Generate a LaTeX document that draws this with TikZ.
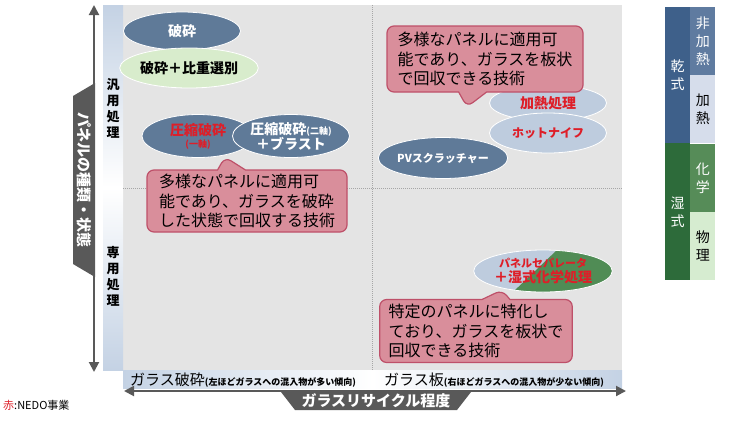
\documentclass[tikz,border=0pt]{standalone}
\usepackage{fontspec}
\setmainfont{Noto Sans CJK JP}
\usepackage{xcolor}
\usetikzlibrary{shapes,shapes.callouts,positioning,arrows.meta}

\definecolor{panelgrey}{RGB}{228,228,228}
\definecolor{stripblue}{RGB}{196,210,228}
\definecolor{axisgrey}{RGB}{89,89,89}
\definecolor{slate}{RGB}{95,122,152}
\definecolor{paleblue}{RGB}{190,204,222}
\definecolor{palegreen}{RGB}{216,236,204}
\definecolor{wetmix}{RGB}{80,140,85}
\definecolor{pinkfill}{RGB}{217,142,155}
\definecolor{pinkline}{RGB}{190,80,105}
\definecolor{nedored}{RGB}{222,30,40}
\definecolor{drydark}{RGB}{62,96,138}
\definecolor{nonheat}{RGB}{95,123,160}
\definecolor{heatc}{RGB}{214,221,235}
\definecolor{wetdark}{RGB}{45,107,58}
\definecolor{chemc}{RGB}{86,140,88}
\definecolor{physc}{RGB}{214,236,208}

\begin{document}
\begin{tikzpicture}[x=1pt, y=-1pt,
    ell/.style={ellipse, draw=white, line width=0.8pt, inner sep=0pt, align=center, font=\bfseries\fontsize{14}{15}\selectfont},
    dark ell/.style={ell, fill=slate, text=white},
    light ell/.style={ell, fill=paleblue, text=nedored},
    memo box/.style={rectangle callout, rounded corners=7pt, fill=pinkfill, draw=pinkline, line width=1.2pt, align=left, inner xsep=9pt, callout pointer width=28pt, font=\fontsize{16}{19.5}\selectfont},
    cell/.style={minimum width=25pt, minimum height=68pt, inner sep=0pt, align=center, font=\fontsize{14}{18}\selectfont},
    side label/.style={align=center, inner sep=0pt, font=\bfseries\fontsize{13}{16}\selectfont},
    axis line/.style={draw=axisgrey, line width=2pt, {Triangle[length=10pt,width=10pt]}-{Triangle[length=10pt,width=10pt]}},
    grid line/.style={draw=gray!70, densely dotted, line width=1pt}]

    \useasboundingbox (0,0) rectangle (730,421);

    % quadrant panel
    \fill[panelgrey] (123,5) rectangle (622,370);
    \shade[top color=stripblue, bottom color=stripblue, middle color=white] (103,5) rectangle (123,370);
    \shade[left color=stripblue, right color=stripblue, middle color=white] (123,370) rectangle (622,388);
    \draw[grid line] (372,5) -- (372,370);
    \draw[grid line] (123,188) -- (622,188);

    % axes
    \coordinate (ytop) at (94,5);
    \coordinate (ybot) at (94,372);
    \coordinate (xleft) at (124,391);
    \coordinate (xright) at (626,391);
    \draw[axis line] (ytop) -- (ybot);
    \draw[axis line] (xleft) -- (xright);
    \fill[axisgrey] (95,83) -- (73,96) -- (73,264) -- (95,277) -- cycle;
    \node[text=white, rotate=-90, font=\bfseries\fontsize{15}{16}\selectfont] (ylabel) at (84,180) {パネルの種類・状態};
    \fill[axisgrey] (281,392) -- (471,392) -- (457,410) -- (295,410) -- cycle;
    \node[text=white, font=\bfseries\fontsize{15}{16}\selectfont] (xlabel) at (376,401) {ガラスリサイクル程度};

    \node[side label] (general) at (113,108) {汎\\用\\処\\理};
    \node[side label] (special) at (113,276) {専\\用\\処\\理};
    \node[anchor=base west, inner sep=0pt, font=\fontsize{15}{16}\selectfont] (xlow) at (130,385) {ガラス破砕{\bfseries\fontsize{9}{10}\selectfont(左ほどガラスへの混入物が多い傾向)}};
    \node[anchor=base west, inner sep=0pt, font=\fontsize{15}{16}\selectfont] (xhigh) at (384,385) {ガラス板{\bfseries\fontsize{9}{10}\selectfont(右ほどガラスへの混入物が少ない傾向)}};

    % techniques
    \node[dark ell, minimum width=117pt, minimum height=38pt] (crush) at (182,31) {破砕};
    \node[ell, fill=palegreen, minimum width=117pt, minimum height=40pt] (gravity) at (189,68) {破砕＋比重選別};
    \node[dark ell, text=nedored, minimum width=112pt, minimum height=43pt] (press1) at (198,136) {圧縮破砕\\[-3pt]{\fontsize{9}{10}\selectfont(一軸)}};
    \node[dark ell, minimum width=117pt, minimum height=43pt] (press2) at (291,136) {圧縮破砕{\fontsize{9}{10}\selectfont(二軸)}\\＋ブラスト};
    \node[light ell, minimum width=117pt, minimum height=36pt] (heating) at (548,103) {加熱処理};
    \node[light ell, minimum width=117pt, minimum height=40pt, font=\bfseries\fontsize{12}{13}\selectfont] (knife) at (548,133) {ホットナイフ};
    \node[dark ell, minimum width=117pt, minimum height=41pt, font=\bfseries\fontsize{11}{12}\selectfont] (scratch) at (443,158) {PVスクラッチャー};
    \node[light ell, minimum width=115pt, minimum height=42pt,
      path picture={\fill[wetmix] ([xshift=14pt]path picture bounding box.north) -- (path picture bounding box.north east) -- (path picture bounding box.south east) -- ([xshift=-30pt]path picture bounding box.south) -- cycle;}]
      (separator) at (543,271) {{\fontsize{11}{12}\selectfont パネルセパレータ}\\＋湿式化学処理};

    % callouts
    \coordinate (tipA) at (467,107);
    \coordinate (tipB) at (225,157);
    \coordinate (tipC) at (502,290);
    \node[memo box, callout absolute pointer={(tipA)}, minimum width=196pt, minimum height=66pt] (memoA) at (485,59) {多様なパネルに適用可\\能であり、ガラスを板状\\で回収できる技術};
    \node[memo box, callout absolute pointer={(tipB)}, minimum width=200pt, minimum height=62pt] (memoB) at (247,201) {多様なパネルに適用可\\能であり、ガラスを破砕\\した状態で回収する技術};
    \node[memo box, callout absolute pointer={(tipC)}, minimum width=187pt, minimum height=63pt] (memoC) at (476,331) {特定のパネルに特化し\\ており、ガラスを板状で\\回収できる技術};

    % legend
    \node[cell, fill=drydark, text=white, minimum height=136pt] (dry) at (677.5,75) {乾\\式};
    \node[cell, fill=nonheat, text=white, anchor=north west] (nonheated) at (dry.north east) {非\\加\\熱};
    \node[cell, fill=heatc, below=0pt of nonheated] (heated) {加\\熱};
    \node[cell, fill=wetdark, text=white, minimum height=137pt, below=0pt of dry] (wet) {湿\\式};
    \node[cell, fill=chemc, text=white, below=0pt of heated] (chemical) {化\\学};
    \node[cell, fill=physc, below=0pt of chemical] (physical) {物\\理};

    \node[anchor=west, inner sep=0pt, font=\fontsize{11}{12}\selectfont] (nedo) at (3,405) {\textcolor{nedored}{赤}:NEDO事業};
\end{tikzpicture}
\end{document}
